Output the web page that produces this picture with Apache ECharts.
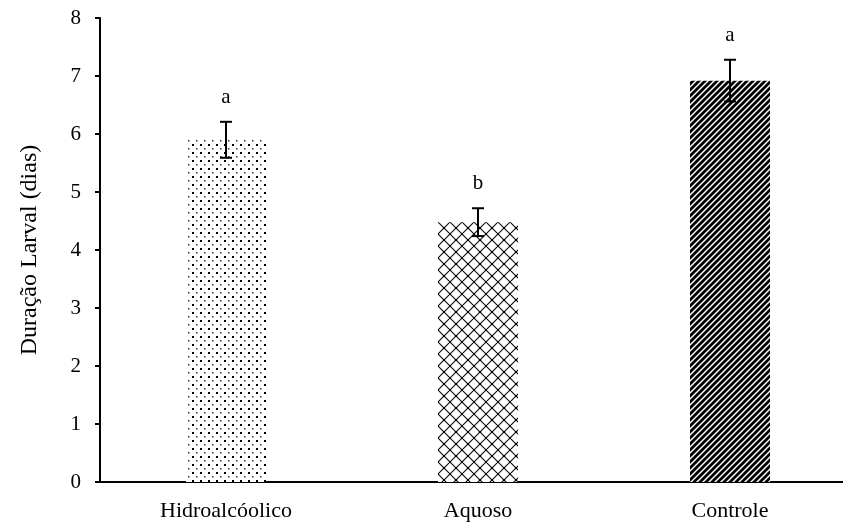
<!DOCTYPE html>
<html>
<head>
<meta charset="utf-8">
<script src="https://cdn.jsdelivr.net/npm/echarts@6/dist/echarts.min.js"></script>
<style>html,body{margin:0;padding:0;background:#fff;overflow:hidden}#c{width:856px;height:522px}</style>
</head>
<body>
<div id="c"></div>
<script>
const categories = ['Hidroalcóolico', 'Aquoso', 'Controle'];
const means = [5.9, 4.48, 6.92];
const errors = [0.31, 0.24, 0.36];
const letters = ['a', 'b', 'a'];
const yTicks = [0, 1, 2, 3, 4, 5, 6, 7, 8];

function makePattern(w, h, draw) {
  const c = document.createElement('canvas');
  c.width = w; c.height = h;
  const ctx = c.getContext('2d');
  ctx.fillStyle = '#fff';
  ctx.fillRect(0, 0, w, h);
  draw(ctx, w, h);
  return c;
}
const dotPat = makePattern(8, 8, (ctx) => {
  ctx.fillStyle = '#000';
  ctx.fillRect(0, 0, 2, 2);
  ctx.fillStyle = '#333';
  ctx.fillRect(4, 4, 1.5, 1.5);
});
const crossPat = makePattern(12, 12, (ctx) => {
  ctx.strokeStyle = '#111';
  ctx.lineWidth = 1.2;
  ctx.beginPath();
  ctx.moveTo(0, 0); ctx.lineTo(12, 12);
  ctx.moveTo(12, 0); ctx.lineTo(0, 12);
  ctx.stroke();
  ctx.fillStyle = '#000';
  ctx.fillRect(5, 5, 2, 2);
  ctx.fillRect(0, 0, 1, 1); ctx.fillRect(11, 0, 1, 1); ctx.fillRect(0, 11, 1, 1); ctx.fillRect(11, 11, 1, 1);
});
const stripePat = makePattern(6, 6, (ctx) => {
  ctx.strokeStyle = '#000';
  ctx.lineWidth = 2.8;
  ctx.beginPath();
  ctx.moveTo(-1, 7); ctx.lineTo(7, -1);
  ctx.moveTo(-4, 4); ctx.lineTo(4, -4);
  ctx.moveTo(2, 10); ctx.lineTo(10, 2);
  ctx.stroke();
});
const patterns = [dotPat, crossPat, stripePat];

const font = 'Liberation Serif';
const chart = echarts.init(document.getElementById('c'), null, {renderer: 'canvas'});
chart.setOption({
  animation: false,
  backgroundColor: '#fff',
  grid: {left: 100, right: 0, top: 18, bottom: 40, containLabel: false},
  xAxis: {
    type: 'category',
    data: categories,
    axisLine: {lineStyle: {color: '#000', width: 2}},
    axisTick: {show: false},
    axisLabel: {color: '#000', fontFamily: font, fontSize: 22, margin: 18}
  },
  yAxis: {
    type: 'value',
    min: 0, max: 8, interval: 1,
    name: 'Duração Larval (dias)',
    nameLocation: 'middle',
    nameGap: 58,
    nameTextStyle: {color: '#000', fontFamily: font, fontSize: 24},
    axisLine: {show: true, lineStyle: {color: '#000', width: 2}},
    axisTick: {show: true, length: 5, lineStyle: {color: '#000', width: 2}},
    splitLine: {show: false},
    axisLabel: {color: '#000', fontFamily: font, fontSize: 21, margin: 19,
      formatter: (v) => yTicks.includes(v) ? String(v) : ''}
  },
  series: [
    {
      type: 'bar',
      barWidth: 80,
      data: means.map((v, i) => ({value: v, itemStyle: {color: {image: patterns[i], repeat: 'repeat'}}}))
    },
    {
      type: 'custom',
      z: 5,
      data: means.map((v, i) => [i, v, errors[i]]),
      renderItem: (params, api) => {
        const i = api.value(0), m = api.value(1), e = api.value(2);
        const top = api.coord([i, m + e]);
        const bot = api.coord([i, m - e]);
        const x = top[0];
        const cap = 6;
        return {
          type: 'group',
          children: [
            {type: 'line', shape: {x1: x, y1: top[1], x2: x, y2: bot[1]}, style: {stroke: '#000', lineWidth: 2}},
            {type: 'line', shape: {x1: x - cap, y1: top[1], x2: x + cap, y2: top[1]}, style: {stroke: '#000', lineWidth: 2}},
            {type: 'line', shape: {x1: x - cap, y1: bot[1], x2: x + cap, y2: bot[1]}, style: {stroke: '#000', lineWidth: 2}},
            {type: 'text', style: {text: letters[params.dataIndex], x: x, y: top[1] - 14, align: 'center', verticalAlign: 'bottom', font: '21px "Liberation Serif"', fill: '#000'}}
          ]
        };
      }
    }
  ]
});
</script>
</body>
</html>
